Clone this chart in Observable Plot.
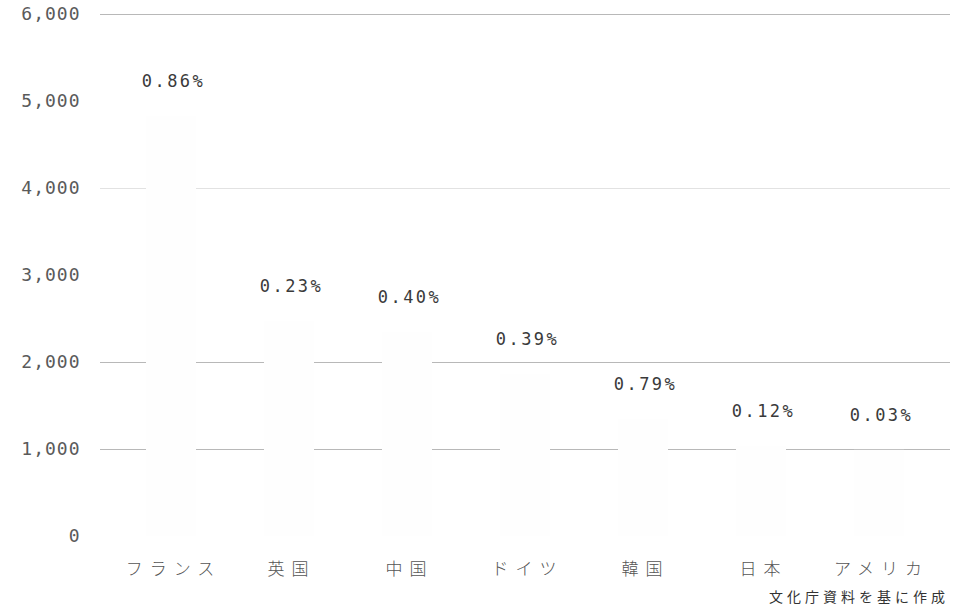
<!DOCTYPE html>
<html>
<head>
<meta charset="utf-8">
<script src="https://cdn.jsdelivr.net/npm/d3@7"></script>
<script src="https://cdn.jsdelivr.net/npm/@observablehq/plot@0.6"></script>
<style>
  html, body { margin: 0; padding: 0; background: #fff; }
  #wrap { position: relative; width: 964px; height: 611px; }
  #caption {
    position: absolute; right: 15px; top: 586px;
    font-family: "Noto Sans CJK JP", sans-serif; font-size: 14px;
    letter-spacing: 4px; color: #333;
  }
</style>
</head>
<body>
<div id="wrap">
  <div id="chart"></div>
  <div id="caption">文化庁資料を基に作成</div>
</div>
<script>
// Countries (x categories)
const countries = ["フランス", "英国", "中国", "ドイツ", "韓国", "日本", "アメリカ"];
// Culture budget (億円)
const budgets = [4830, 2470, 2340, 1860, 1350, 1030, 990];
// Share of national budget labels
const shares = ["0.86%", "0.23%", "0.40%", "0.39%", "0.79%", "0.12%", "0.03%"];
// Y axis ticks
const yTicks = [0, 1000, 2000, 3000, 4000, 5000, 6000];
// Gridlines visible in the picture
const gridStrong = [1000, 2000, 6000];
const gridFaint = [4000];

const data = countries.map((c, i) => ({country: c, budget: budgets[i], share: shares[i]}));

const chart = Plot.plot({
  width: 964,
  height: 584,
  marginTop: 14,
  marginBottom: 48,
  marginLeft: 100,
  marginRight: 14,
  style: {background: "white", overflow: "visible"},
  x: {domain: countries, paddingInner: 0.58, paddingOuter: 0.375, label: null},
  y: {domain: [0, 6000], label: null},
  marks: [
    Plot.ruleY(gridStrong, {stroke: "#b8b8b8", strokeWidth: 1}),
    Plot.ruleY(gridFaint, {stroke: "#e2e2e2", strokeWidth: 1}),
    Plot.barY(data, {x: "country", y: "budget", fill: "#fefefe"}),
    Plot.text(data, {
      x: "country", y: "budget", text: "share", dy: -35, dx: 2,
      fontFamily: "DejaVu Sans Mono", fontSize: 17, fill: "#3a3a3a"
    }),
    Plot.axisY(yTicks, {
      tickSize: 0, tickPadding: 20, tickFormat: d3.format(","),
      fontFamily: "DejaVu Sans Mono", fontSize: 18, fill: "#5a5a5a"
    }),
    Plot.axisX({
      tickSize: 0, tickPadding: 26, dx: 2,
      fontFamily: "Noto Sans CJK JP", fontSize: 17, fill: "#555"
    })
  ]
});
d3.select(chart).selectAll('g[aria-label="y-axis tick label"] text').style("letter-spacing", "1px");
d3.select(chart).selectAll('g[aria-label="text"] text').style("letter-spacing", "2.5px");
d3.select(chart).selectAll('g[aria-label="x-axis tick label"] text')
  .style("letter-spacing", "7px").style("font-weight", "300");
document.getElementById("chart").appendChild(chart);
</script>
</body>
</html>
